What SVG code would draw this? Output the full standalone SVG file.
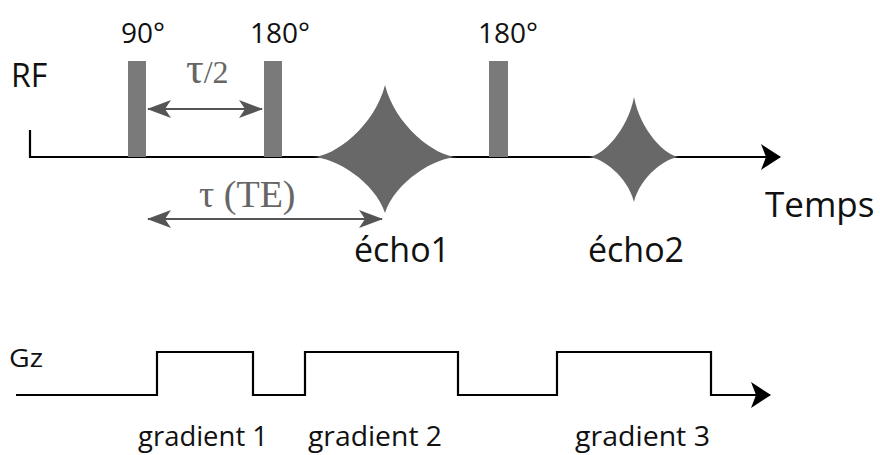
<svg xmlns="http://www.w3.org/2000/svg" width="880" height="455" viewBox="0 0 880 455">
<style>
.axis{fill:none;stroke:#000;stroke-width:2.2}
.pulse{fill:#7a7a7a}
.echo{fill:#686868}
.lbl{font-family:"Open Sans","Noto Sans",sans-serif;fill:#111}
.dim{stroke:#555;stroke-width:2.2;fill:none}
.tau{font-family:"Liberation Serif",serif;fill:#666}
</style>
<defs>
<marker id="ah" viewBox="0 0 24 20" refX="23" refY="10" markerWidth="24" markerHeight="20" markerUnits="userSpaceOnUse" orient="auto-start-reverse">
<path d="M0,1 L24,10 L0,19 L6,10 Z" fill="#555"/>
</marker>
<marker id="ax" viewBox="0 0 20 26" refX="19" refY="13" markerWidth="20" markerHeight="26" markerUnits="userSpaceOnUse" orient="auto">
<path d="M0,0 L20,13 L0,26 L5,13 Z" fill="#000"/>
</marker>
</defs>
<g id="connectors">
<path class="axis" d="M30,130 V157 H780" marker-end="url(#ax)"/>
<path class="axis" d="M16,395 H157 V352 H253 V395 H305 V352 H458 V395 H557 V352 H711 V395 H770" marker-end="url(#ax)"/>
<line class="dim" x1="148" y1="109" x2="262" y2="109" marker-start="url(#ah)" marker-end="url(#ah)"/>
<line class="dim" x1="148" y1="219" x2="382" y2="219" marker-start="url(#ah)" marker-end="url(#ah)"/>
</g>
<g id="pulse90"><rect class="pulse" x="128" y="61" width="18" height="96"/><text class="lbl" x="143" y="43" font-size="28" text-anchor="middle">90°</text></g>
<g id="pulse180a"><rect class="pulse" x="264" y="61" width="18" height="96"/><text class="lbl" x="280" y="43" font-size="28" text-anchor="middle">180°</text></g>
<g id="pulse180b"><rect class="pulse" x="489" y="61" width="19" height="96"/><text class="lbl" x="508" y="43" font-size="28" text-anchor="middle">180°</text></g>
<g id="echo1"><path class="echo" d="M312,157 C335,157 375,125 385,85 C395,125 435,157 458,157 C435,157 395,182 385,213 C375,182 335,157 312,157 Z"/><text class="lbl" x="402" y="262" font-size="34" text-anchor="middle">écho1</text></g>
<g id="echo2"><path class="echo" d="M588,157 C602,157 628,130 634,97 C640,130 666,157 680,157 C666,157 640,177 634,202 C628,177 602,157 588,157 Z"/><text class="lbl" x="636" y="262" font-size="34" text-anchor="middle">écho2</text></g>
<g id="labels">
<text class="lbl" x="11" y="87" font-size="32">RF</text>
<text class="lbl" x="765" y="217" font-size="35">Temps</text>
<text class="tau" x="186" y="83" font-size="44">τ<tspan font-size="32">/2</tspan></text>
<text class="tau" x="199" y="207" font-size="38">τ (TE)</text>
<text class="lbl" x="9" y="367" font-size="26" textLength="34" lengthAdjust="spacingAndGlyphs">Gz</text>
<text class="lbl" x="138" y="446" font-size="27" textLength="130" lengthAdjust="spacingAndGlyphs">gradient 1</text>
<text class="lbl" x="308" y="446" font-size="27" textLength="134" lengthAdjust="spacingAndGlyphs">gradient 2</text>
<text class="lbl" x="575" y="446" font-size="27" textLength="135" lengthAdjust="spacingAndGlyphs">gradient 3</text>
</g>
</svg>
